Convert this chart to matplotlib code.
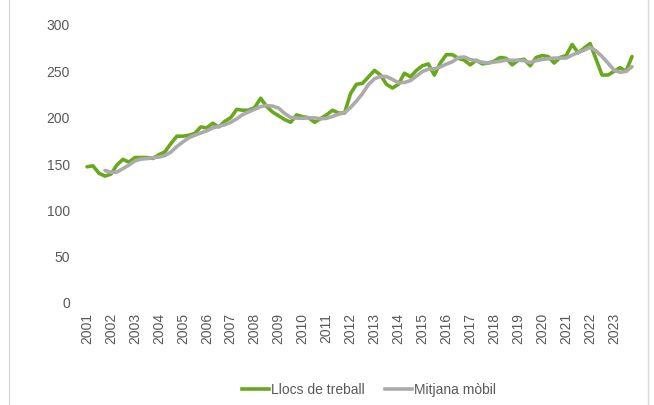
import matplotlib
matplotlib.use("Agg")
import matplotlib.pyplot as plt
from matplotlib.lines import Line2D

# === DONNEES (trimestrielles, 2001T1 - 2023T4) ===
years = list(range(2001, 2024))

llocs_treball = [
    147, 148, 140, 137,   # 2001
    139, 149, 155, 152,   # 2002
    157, 157, 157, 156,   # 2003
    160, 163, 172, 180,   # 2004
    180, 181, 183, 190,   # 2005
    189, 194, 190, 196,   # 2006
    200, 209, 208, 208,   # 2007
    211, 221, 212, 206,   # 2008
    202, 198, 195, 203,   # 2009
    201, 200, 195, 199,   # 2010
    203, 208, 205, 205,   # 2011
    226, 236, 237, 244,   # 2012
    251, 246, 236, 232,   # 2013
    236, 248, 244, 251,   # 2014
    256, 258, 246, 259,   # 2015
    268, 268, 264, 262,   # 2016
    257, 262, 258, 259,   # 2017
    261, 265, 264, 257,   # 2018
    262, 263, 256, 265,   # 2019
    267, 266, 259, 265,   # 2020
    267, 279, 270, 275,   # 2021
    280, 263, 246, 246,   # 2022
    250, 254, 250, 266,   # 2023
]

# mitjana mobil : demarre au 4e trimestre
mitjana_mobil = [
    143.0, 141.0, 141.3, 145.0, 148.8, 153.3, 155.3, 155.8, 156.8,
    157.5, 159.0, 162.8, 168.8, 173.8, 178.3, 181.0, 183.5, 185.8, 189.0,
    190.8, 192.3, 195.0, 198.8, 203.3, 206.3, 209.0, 212.0, 213.0, 212.5,
    210.3, 204.5, 200.3, 199.5, 199.3, 199.8, 199.8, 198.8, 199.3, 201.3,
    203.8, 205.3, 211.0, 218.0, 226.0, 235.8, 242.0, 244.5, 244.3, 241.3,
    237.5, 238.0, 240.0, 244.8, 249.8, 252.3, 252.8, 254.8, 257.8, 260.3,
    264.8, 265.5, 262.8, 261.3, 259.8, 259.0, 260.0, 260.8, 262.3, 261.8,
    262.0, 261.5, 259.5, 261.5, 262.8, 263.5, 264.3, 264.3, 264.3, 267.5,
    270.3, 272.8, 276.0, 272.0, 266.0, 258.8, 251.3, 249.0, 250.0, 255.0,
]

label_treball = "Llocs de treball"
label_mobil = "Mitjana mòbil"

# === COULEURS ===
GREEN = "#68A91C"
GREY = "#ABABAB"
TXT = "#595959"
FS = 10

plt.rcParams["font.family"] = ["Liberation Sans", "DejaVu Sans"]

fig = plt.figure(figsize=(6.54, 4.05), dpi=100)
ax = fig.add_axes([81 / 654, 102 / 405, (638 - 81) / 654, 278 / 405])

x_t = list(range(len(llocs_treball)))
x_m = list(range(3, 3 + len(mitjana_mobil)))

ax.plot(x_t, llocs_treball, color=GREEN, lw=2.6, solid_joinstyle="round",
        solid_capstyle="round", zorder=2)
ax.plot(x_m, mitjana_mobil, color=GREY, lw=2.6, solid_joinstyle="round",
        solid_capstyle="round", zorder=3)

ax.set_xlim(-1, len(llocs_treball))
ax.set_ylim(0, 300)
ax.set_yticks(range(0, 301, 50))
ax.set_xticks([4 * i for i in range(len(years))])
ax.set_xticklabels([str(y) for y in years], rotation=90)

for s in ax.spines.values():
    s.set_visible(False)
ax.tick_params(axis="both", length=0, labelsize=FS, colors=TXT)
ax.tick_params(axis="y", pad=8)
ax.tick_params(axis="x", pad=7)

# cadre clair autour du graphique
for xp in (8.5 / 654, 647.5 / 654):
    fig.add_artist(Line2D([xp, xp], [0, 1], transform=fig.transFigure,
                          color="#D9D9D9", lw=1))

handles = [Line2D([], [], color=GREEN, lw=2.6),
           Line2D([], [], color=GREY, lw=2.6)]
fig.legend(handles, [label_treball, label_mobil], loc="center",
           bbox_to_anchor=(369 / 654, 1 - 390 / 405), ncol=2, frameon=False,
           handlelength=1.9, handletextpad=0.15, columnspacing=1.5,
           prop={"size": FS}, labelcolor=TXT)

fig.savefig("out.png", dpi=100)
